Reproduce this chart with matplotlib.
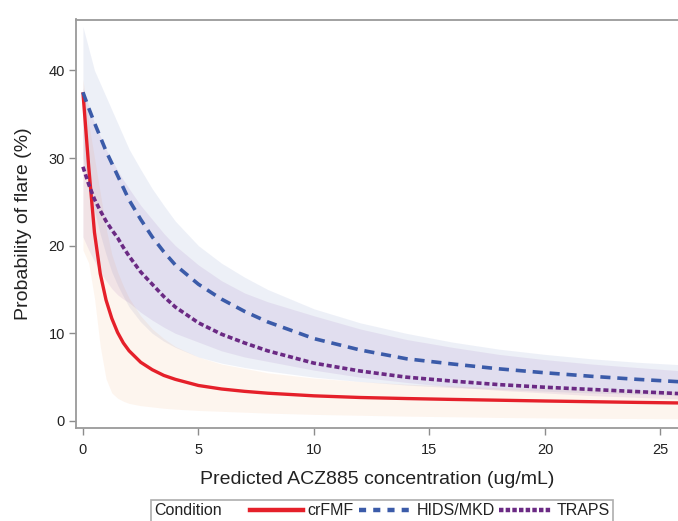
import matplotlib
matplotlib.use("Agg")
import matplotlib.pyplot as plt
from matplotlib.lines import Line2D
from matplotlib.offsetbox import HPacker

# ---- data ----
conc = [0, 0.25, 0.5, 0.75, 1, 1.25, 1.5, 1.75, 2, 2.5, 3, 3.5, 4, 5, 6, 7, 8, 10, 12, 14, 16, 18, 20, 22, 24, 26]

crfmf    = [37.5, 29.0, 21.5, 16.8, 13.8, 11.7, 10.1, 8.9, 8.0, 6.7, 5.85, 5.2, 4.75, 4.05, 3.65, 3.38, 3.17, 2.87, 2.68, 2.56, 2.46, 2.37, 2.28, 2.2, 2.12, 2.05]
crfmf_lo = [19.5, 18.0, 14.0, 8.5, 4.8, 3.2, 2.6, 2.25, 2.0, 1.75, 1.6, 1.45, 1.35, 1.2, 1.1, 1.0, 0.9, 0.75, 0.65, 0.55, 0.48, 0.4, 0.35, 0.3, 0.28, 0.25]
crfmf_hi = [39.0, 34.0, 30.0, 26.0, 22.0, 19.0, 17.0, 15.4, 14.0, 12.0, 10.5, 9.4, 8.5, 7.3, 6.5, 6.0, 5.5, 4.9, 4.5, 4.2, 4.0, 3.8, 3.7, 3.6, 3.5, 3.4]

hids    = [37.5, 35.7, 34.0, 32.4, 30.8, 29.4, 28.0, 26.6, 25.2, 23.0, 21.0, 19.3, 17.8, 15.6, 13.9, 12.5, 11.3, 9.4, 8.1, 7.1, 6.5, 5.95, 5.5, 5.1, 4.75, 4.45]
hids_lo = [30.0, 27.0, 24.0, 21.3, 19.0, 17.0, 15.5, 14.2, 13.0, 11.3, 10.0, 9.1, 8.4, 7.3, 6.6, 6.1, 5.7, 5.0, 4.5, 4.1, 3.8, 3.6, 3.4, 3.2, 3.05, 2.9]
hids_hi = [45.0, 42.5, 40.0, 38.5, 37.0, 35.5, 34.0, 32.5, 31.0, 28.7, 26.5, 24.6, 22.8, 20.0, 18.0, 16.4, 15.0, 12.8, 11.2, 10.0, 9.0, 8.2, 7.6, 7.1, 6.7, 6.4]

traps    = [29.0, 27.0, 25.3, 24.0, 22.8, 21.8, 20.9, 19.8, 18.8, 17.0, 15.6, 14.2, 13.0, 11.2, 9.9, 8.9, 8.0, 6.6, 5.7, 5.0, 4.55, 4.15, 3.85, 3.6, 3.35, 3.1]
traps_lo = [21.0, 19.5, 18.2, 17.0, 16.0, 15.1, 14.4, 13.9, 13.5, 12.4, 11.5, 10.7, 10.0, 9.0, 8.0, 7.3, 6.8, 5.8, 5.0, 4.4, 3.9, 3.5, 3.2, 2.9, 2.7, 2.5]
traps_hi = [38.0, 36.0, 34.0, 32.5, 31.0, 29.8, 28.6, 27.5, 26.5, 24.6, 23.0, 21.4, 20.0, 17.8, 16.0, 14.6, 13.6, 12.0, 10.5, 9.3, 8.4, 7.6, 7.0, 6.5, 6.1, 5.7]

xticks = [0, 5, 10, 15, 20, 25]
yticks = [0, 10, 20, 30, 40]
labels = ["crFMF", "HIDS/MKD", "TRAPS"]
legend_title = "Condition"

# ---- styling ----
plt.rcParams['font.family'] = ['Liberation Sans', 'DejaVu Sans']
red, blue, purple = '#e5202a', '#3b5ba9', '#6b2a84'
gray = '#8c8c8c'

fig = plt.figure(figsize=(6.78, 5.21), dpi=100)
ax = fig.add_axes([76/678, 1-428/521, 1-76/678, (428-19.5)/521])

ax.fill_between(conc, hids_lo, hids_hi, color='#4060b0', alpha=0.09, lw=0)
ax.fill_between(conc, traps_lo, traps_hi, color='#7030a0', alpha=0.09, lw=0)
ax.fill_between(conc, crfmf_lo, crfmf_hi, color='#f08030', alpha=0.08, lw=0)

ax.plot(conc, crfmf, color=red, lw=2.4, solid_capstyle='butt', solid_joinstyle='round')
ax.plot(conc, hids, color=blue, lw=2.6, dashes=(2.8, 1.9))
ax.plot(conc, traps, color=purple, lw=2.6, dashes=(1.4, 0.8))

ax.set_xlim(-0.3, 25.76)
ax.set_ylim(-0.8, 45.8)
ax.set_xticks(xticks)
ax.set_yticks(yticks)
ax.tick_params(axis='both', direction='out', length=5, width=1, color=gray,
               labelsize=10.5, labelcolor='#222222')
ax.tick_params(axis='x', pad=6)
ax.tick_params(axis='y', pad=3)
for s in ['left', 'top', 'bottom']:
    ax.spines[s].set_color('#9a9a9a')
    ax.spines[s].set_linewidth(1.3)
ax.spines['right'].set_visible(False)

ax.set_xlabel("Predicted ACZ885 concentration (ug/mL)", fontsize=14, color='#222222', labelpad=10)
ax.set_ylabel("Probability of flare (%)", fontsize=14, color='#222222', labelpad=12)

handles = [
    Line2D([], [], color=red, lw=3.2),
    Line2D([], [], color=blue, lw=3.2, dashes=(1.6, 1.6)),
    Line2D([], [], color=purple, lw=3.2, dashes=(1.0, 0.5)),
]
fs = 11.5
leg = fig.legend(handles, labels, loc='upper center', title=legend_title,
                 title_fontsize=fs,
                 bbox_to_anchor=(382/678, 1-500/521), ncol=3, frameon=True,
                 fancybox=False, edgecolor='#9a9a9a', fontsize=fs,
                 handlelength=3.3, handletextpad=0.3, columnspacing=0.3,
                 borderpad=0.1, borderaxespad=0)
leg.get_frame().set_linewidth(1.2)
for t in leg.get_texts():
    t.set_color('#222222')
leg.get_title().set_color('#222222')

# put the title to the left of the entries (horizontal legend layout)
try:
    fpx = fs * fig.dpi / 72.0
    box = HPacker(pad=0.15 * fpx, sep=1.3 * fpx, align='center',
                  children=[leg._legend_title_box, leg._legend_handle_box])
    box.set_figure(fig)
    box.axes = leg.axes
    box.set_offset(leg._findoffset)
    leg._legend_box = box
except Exception:
    pass

fig.savefig("out.png", dpi=100)
